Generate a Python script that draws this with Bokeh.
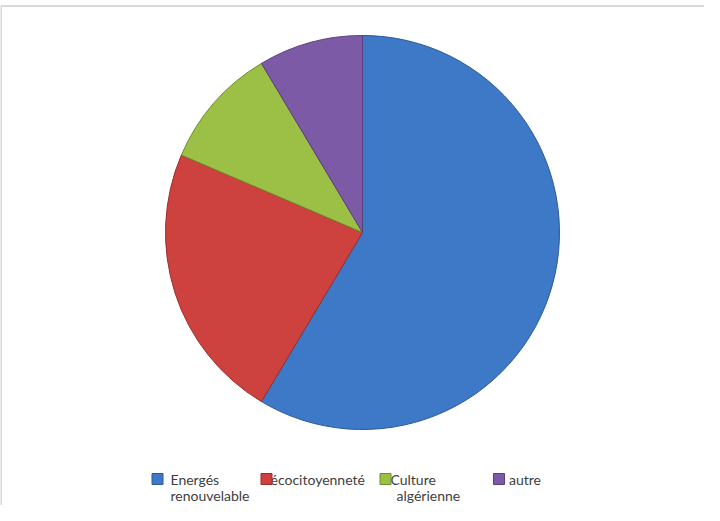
import math
from bokeh.plotting import figure
from bokeh.models import Range1d, ColumnDataSource
from bokeh.core.properties import value
from bokeh.embed import file_html
from bokeh.resources import INLINE

# Data
categories = ["Energés renouvelable", "écocitoyenneté", "Culture algérienne", "autre"]
counts = [41, 16, 7, 6]
colors = ["#3d79c6", "#cd423e", "#9cbf45", "#7c5aa6"]
edge_colors = ["#2c5a96", "#9a2e2b", "#6f8c2c", "#5a3f7c"]
legend_lines = [["Energés", "renouvelable"], ["écocitoyenneté"], ["Culture", "algérienne"], ["autre"]]

W, H = 704, 505
p = figure(width=W, height=H, output_backend="svg", toolbar_location=None,
           x_range=Range1d(0, W), y_range=Range1d(0, H), min_border=0)
p.axis.visible = False
p.grid.visible = False
p.outline_line_color = None
p.background_fill_color = "white"

# frame (top and left lines)
p.segment(x0=[0, 0.5], y0=[499.5, 499.5], x1=[W, 0.5], y1=[499.5, 0],
          line_color="#d9d9d9", line_width=2)

# pie
total = sum(counts)
starts, ends = [], []
cum = 0
for c in counts:
    starts.append(math.pi / 2 - 2 * math.pi * cum / total)
    cum += c
    ends.append(math.pi / 2 - 2 * math.pi * cum / total)
src = ColumnDataSource(dict(start=starts, end=ends, color=colors, edge=edge_colors,
                            cat=categories))
cx, cy, r = 362, 273, 197
p.wedge(x=cx, y=cy, radius=r, start_angle="start", end_angle="end", direction="clock",
        fill_color="color", line_color="edge", line_width=1, source=src)

# legend
marker_x = [157, 266, 385, 498.5]
text_x = [[170, 170], [270], [390, 396], [508.5]]
line_y = [26, 10]
font = value("Lato")
for i in range(len(categories)):
    for j, t in enumerate(legend_lines[i]):
        p.text(x=[text_x[i][j]], y=[line_y[j]], text=[t], text_font=font,
               text_font_size="14px", text_color="#404040", text_baseline="middle",
               text_align="left")
    p.rect(x=[marker_x[i]], y=[26.5], width=11, height=11, fill_color=colors[i],
           line_color=edge_colors[i], line_width=1)

open("out.html", "w").write(file_html(p, INLINE))
